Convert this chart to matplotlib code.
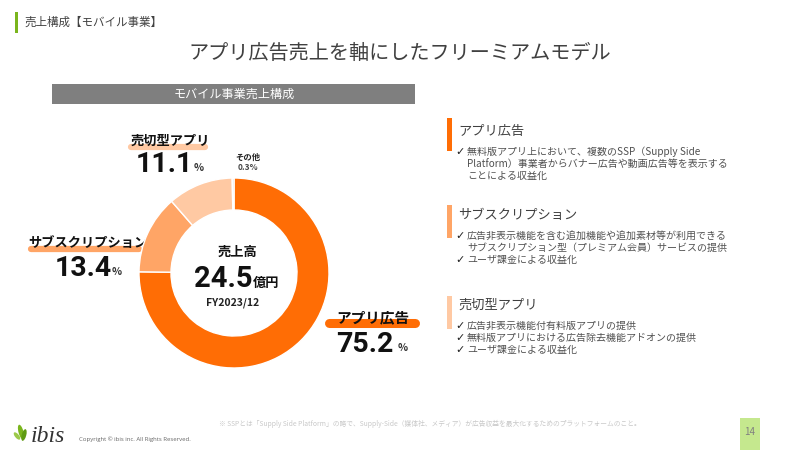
import matplotlib
matplotlib.use('Agg')
import matplotlib.pyplot as plt
from matplotlib.patches import Rectangle, Ellipse

plt.rcParams['font.family'] = ['Noto Sans CJK JP', 'DejaVu Sans']

# values
segments = ['アプリ広告', 'サブスクリプション', '売切型アプリ', 'その他']
shares = [75.2, 13.4, 11.1, 0.3]
share_labels = ['75.2', '13.4', '11.1', '0.3%']
colors = ['#FF6D05', '#FFA566', '#FFC9A3', '#D9D9D9']
total_sales = '24.5'
total_unit = '億円'
period = 'FY2023/12'

desc_titles = ['アプリ広告', 'サブスクリプション', '売切型アプリ']
desc_lines = [
    ['無料版アプリ上において、複数のSSP（Supply Side', 'Platform）事業者からバナー広告や動画広告等を表示する', 'ことによる収益化'],
    ['広告非表示機能を含む追加機能や追加素材等が利用できる', 'サブスクリプション型（プレミアム会員）サービスの提供', 'ユーザ課金による収益化'],
    ['広告非表示機能付有料版アプリの提供', '無料版アプリにおける広告除去機能アドオンの提供', 'ユーザ課金による収益化'],
]
desc_checks = [[True, False, False], [True, False, True], [True, True, True]]

number_font = ['Roboto', 'Noto Sans CJK JP']

fig = plt.figure(figsize=(8, 4.5), dpi=100)

# full page axes in pixels, y going down
bg = fig.add_axes([0, 0, 1, 1])
bg.set_xlim(0, 800)
bg.set_ylim(450, 0)
bg.axis('off')

# header
bg.add_patch(Rectangle((15, 12), 3, 21, color='#7AB51D', lw=0))
bg.text(24, 22, '売上構成【モバイル事業】', fontsize=8.3, color='#404040', va='center')
bg.text(400, 53, 'アプリ広告売上を軸にしたフリーミアムモデル', fontsize=14.5, color='#404040', ha='center', va='center')

bg.add_patch(Rectangle((52, 84), 363, 20, color='#7F7F7F', lw=0))
bg.text(234, 94, 'モバイル事業売上構成', fontsize=8.7, color='white', ha='center', va='center')

# donut
cx, cy, r = 234, 273, 95
ax = fig.add_axes([(cx - r) / 800, 1 - (cy + r) / 450, 2 * r / 800, 2 * r / 450])
ax.pie(shares, colors=colors, startangle=90, counterclock=False, radius=1,
       wedgeprops={'width': 32 / 95, 'edgecolor': 'white', 'linewidth': 1})
ax.set_xlim(-1, 1)
ax.set_ylim(-1, 1)

# centre text
bg.text(237, 252, '売上高', fontsize=9.5, fontweight='bold', color='#111111', ha='center', va='center')
bg.text(223, 279, total_sales, fontsize=21, fontweight='bold', family=number_font, color='#111111', ha='center', va='center')
bg.text(266, 283, total_unit, fontsize=9.5, fontweight='bold', color='#111111', ha='center', va='center')
bg.text(233, 303, period, fontsize=7.5, fontweight='bold', color='#222222', ha='center', va='center')

# segment callouts: label centre, label size, highlight x range/y/width, number centre, percent x
callouts = [
    (0, 373, 317, 10.5, (326, 418), 323, 6.5, 365, 345, 403),
    (1, 88, 243, 9.5, (28, 142), 249, 4.5, 83, 269, 117),
    (2, 170, 141, 9.5, (128, 208), 147, 4.5, 164, 165, 199),
]
for i, lx, ly, lsize, (x0, x1), hy, hw, nx, ny, px in callouts:
    bg.plot([x0 + 3, x1 - 3], [hy, hy], color=colors[i], lw=hw, solid_capstyle='round')
    bg.text(lx, ly, segments[i], fontsize=lsize, fontweight='bold', color='#111111', ha='center', va='center')
    bg.text(nx, ny, share_labels[i], fontsize=20.5, fontweight='bold', family=number_font, color='#111111', ha='center', va='center')
    bg.text(px, ny + 3, '%', fontsize=7.5, fontweight='bold', color='#333333', ha='center', va='center')

bg.text(248, 157, segments[3], fontsize=6, fontweight='bold', color='#222222', ha='center', va='center')
bg.text(248, 168, share_labels[3], fontsize=6, fontweight='bold', color='#444444', ha='center', va='center')

# right hand descriptions
blocks = [(118, 132, 152), (205, 215, 236), (296, 305, 326)]
for k, (bar_y, title_y, text_y) in enumerate(blocks):
    bg.add_patch(Rectangle((447, bar_y), 4.5, 33, color=colors[k], lw=0))
    bg.text(458, title_y, desc_titles[k], fontsize=9.5, color='#404040', va='center')
    for n, line in enumerate(desc_lines[k]):
        y = text_y + n * 12
        bg.text(467, y, line, fontsize=7.2, color='#505050', va='center')
        if desc_checks[k][n]:
            bg.text(455, y, '✓', fontsize=8, fontweight='bold', family='DejaVu Sans', color='#222222', va='center')

# footer
bg.text(430, 424, '※ SSPとは「Supply Side Platform」の略で、Supply-Side（媒体社、メディア）が広告収益を最大化するためのプラットフォームのこと。',
        fontsize=4.85, color='#C8C8C8', ha='center', va='center')
bg.add_patch(Rectangle((740, 418), 20, 32, color='#C5E88E', lw=0))
bg.text(750, 432, '14', fontsize=7, color='#808080', ha='center', va='center')

# logo
bg.add_patch(Ellipse((21, 432), 5, 15, angle=-15, color='#7AB51D', lw=0))
bg.add_patch(Ellipse((24, 435), 4.5, 12, angle=15, color='#5E9A12', lw=0))
bg.add_patch(Ellipse((17, 436), 4, 9, angle=-40, color='#9CC94A', lw=0))
bg.text(31, 436, 'ibis', fontsize=17, style='italic', family='Liberation Serif', color='#333333', va='center')
bg.text(79, 439, 'Copyright © ibis inc. All Rights Reserved.', fontsize=4.3, family='Open Sans', color='#666666', va='center')

fig.savefig('out.png', dpi=100)
